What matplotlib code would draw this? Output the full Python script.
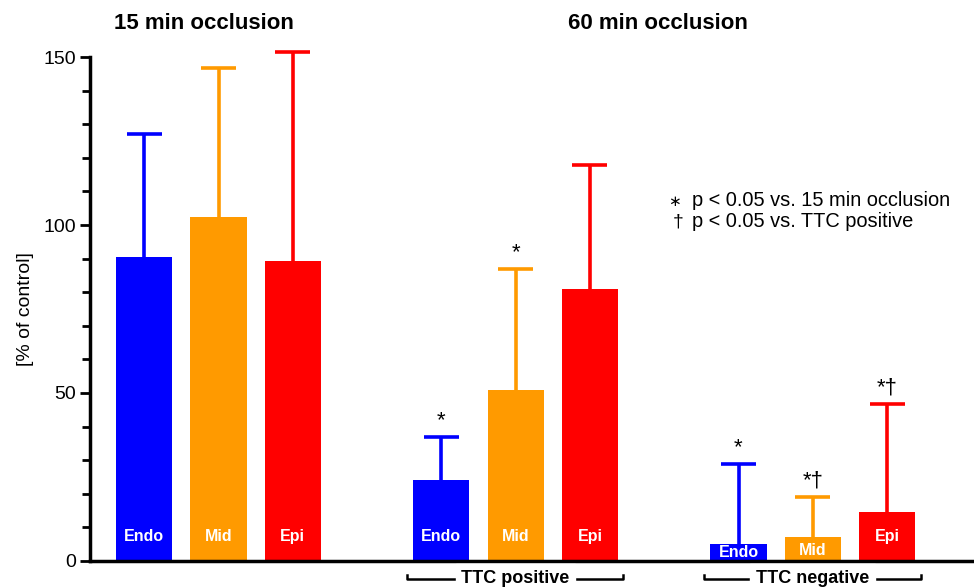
import numpy as np
import matplotlib
matplotlib.use("Agg")
import matplotlib.pyplot as plt
from matplotlib.ticker import MultipleLocator

plt.rcParams['font.family'] = ['Liberation Sans', 'DejaVu Sans']

# bar data
regions = ["Endo", "Mid", "Epi"] * 3
means = [90.5, 102.4, 89.3, 24.1, 50.9, 81.0, 5.1, 7.1, 14.6]
sd = [36.5, 44.3, 62.2, 12.8, 36.0, 36.9, 23.8, 11.9, 32.1]
marks = ["", "", "", "*", "*", "", "*", "*\u2020", "*\u2020"]
label_y = [7.3, 7.3, 7.3, 7.3, 7.3, 7.3, 2.4, 3.2, 7.3]
positions = [0, 1, 2, 4, 5, 6, 8, 9, 10]
colors = ["#0000FF", "#FF9A00", "#FF0000"] * 3

fig = plt.figure(figsize=(9.74, 5.88), dpi=100)
ax = fig.add_axes([0.0924, 0.046, 0.9076, 0.857])

ax.bar(positions, means, width=0.755, color=colors, zorder=2)

# upper error bars only (stem + cap)
cap = 0.235
for x, m, s, c in zip(positions, means, sd, colors):
    ax.vlines(x, m, m + s, color=c, lw=2.6, zorder=1, clip_on=False)
    ax.hlines(m + s, x - cap, x + cap, color=c, lw=2.6, zorder=1, clip_on=False)

# labels inside bars
for x, lab, ly in zip(positions, regions, label_y):
    ax.text(x, ly, lab, color="white", fontweight="bold", fontsize=11.5,
            ha="center", va="center", zorder=3)

# significance marks
for x, m, s, mk in zip(positions, means, sd, marks):
    if mk:
        ax.text(x, m + s + 1.8, mk, fontsize=16, ha="center", va="bottom")

ax.set_xlim(-0.73, 11.17)
ax.set_ylim(0, 150)
ax.yaxis.set_major_locator(MultipleLocator(50))
ax.yaxis.set_minor_locator(MultipleLocator(10))
ax.tick_params(axis="y", which="major", length=7, width=2, labelsize=14, direction="out", pad=3)
ax.tick_params(axis="y", which="minor", length=6, width=2)
ax.set_xticks([])
for sp in ["top", "right"]:
    ax.spines[sp].set_visible(False)
ax.spines["left"].set_linewidth(2.5)
ax.spines["bottom"].set_linewidth(2.5)
ax.set_ylabel("[% of control]", fontsize=14, labelpad=7)

# group titles
ax.text(0.81, 1.067, "15 min occlusion", transform=ax.get_xaxis_transform(),
        fontsize=16, fontweight="bold", ha="center", va="center")
ax.text(6.91, 1.067, "60 min occlusion", transform=ax.get_xaxis_transform(),
        fontsize=16, fontweight="bold", ha="center", va="center")

# brackets below axis
tr = ax.get_xaxis_transform()
for lo, hi, name in [(3.54, 6.45, "TTC positive"), (7.54, 10.45, "TTC negative")]:
    mid = (lo + hi) / 2
    ax.plot([lo, lo, hi, hi], [-0.027, -0.035, -0.035, -0.027], color="black",
            lw=1.8, transform=tr, clip_on=False)
    ax.text(mid, -0.035, name, transform=tr, fontsize=13, fontweight="bold",
            ha="center", va="center", backgroundcolor="white", clip_on=False)

# legend text
ax.text(7.14, 106.7, "\u2217", fontsize=11, ha="center", va="center")
ax.text(7.19, 100.9, "\u2020", fontsize=14, ha="center", va="center")
ax.text(7.37, 107.4, "p < 0.05 vs. 15 min occlusion", fontsize=14.4, ha="left", va="center")
ax.text(7.37, 100.9, "p < 0.05 vs. TTC positive", fontsize=14.4, ha="left", va="center")

fig.savefig("out.png", dpi=100)
